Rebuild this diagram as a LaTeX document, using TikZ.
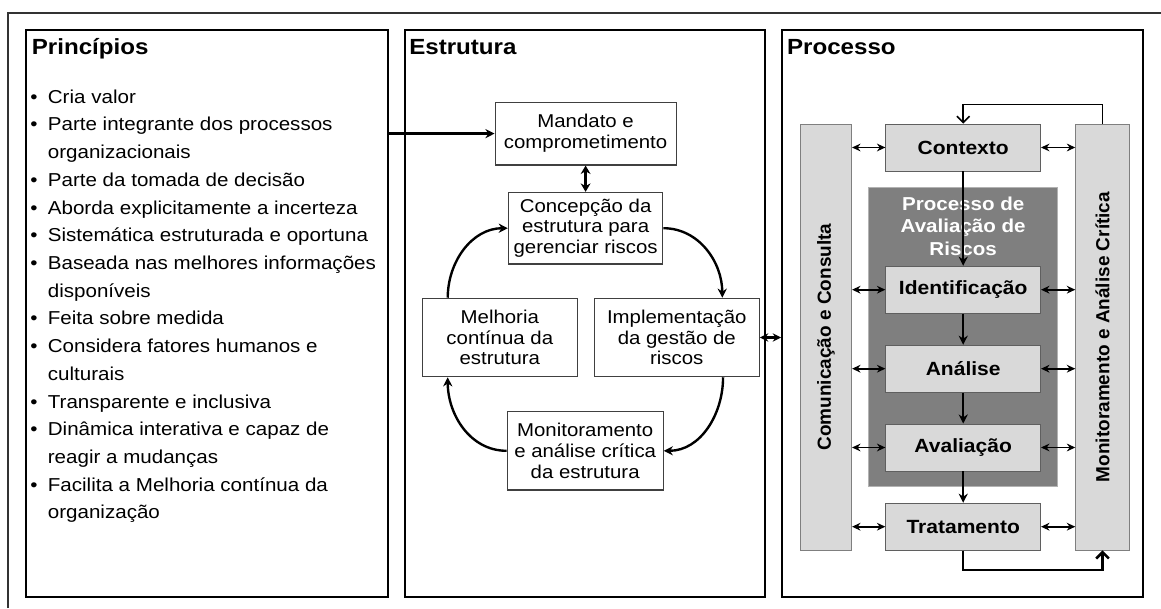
\documentclass[tikz,border=0pt]{standalone}
\usepackage{fontspec}
\setmainfont[FakeStretch=1.1]{Liberation Sans}
\newfontfamily\barfont{Liberation Sans}
\usetikzlibrary{arrows.meta, positioning}
\definecolor{boxgray}{RGB}{217,217,217}
\definecolor{riskgray}{RGB}{127,127,127}
\definecolor{edgegray}{RGB}{95,95,95}
\newcommand\bul{\makebox[0.44cm][l]{\textbullet}}
\newcommand\cont{\hspace*{0.44cm}}

\tikzset{
  panel/.style={draw=black, line width=1.2pt, inner sep=0pt, minimum height=14.175cm},
  paneltitle/.style={anchor=base west, inner sep=0pt, font=\fontsize{15.6}{18}\selectfont\bfseries},
  itemline/.style={anchor=base west, inner sep=0pt, font=\fontsize{13.3}{15}\selectfont},
  framebox/.style={draw=black!75, line width=0.8pt, fill=white, align=center, inner sep=1pt,
    minimum height=1.96cm, font=\fontsize{13.2}{14.8}\selectfont},
  stepbox/.style={draw=edgegray, line width=0.6pt, fill=boxgray, minimum width=3.87cm,
    minimum height=1.175cm, font=\fontsize{13.6}{15}\selectfont\bfseries},
  sidebar/.style={draw=riskgray, line width=0.6pt, fill=boxgray, minimum height=10.65cm},
  bartext/.style={rotate=90, font=\barfont\fontsize{13.5}{15}\selectfont\bfseries},
  arr/.style={line width=1.7pt, -{Stealth[length=6.5pt,width=6.5pt]}},
  dblarr/.style={line width=1.3pt, {Stealth[length=6pt,width=5.5pt]}-{Stealth[length=6pt,width=5.5pt]}},
  barb/.style={-{Straight Barb[length=4.5pt,width=9pt]}}
}

\begin{document}
\begin{tikzpicture}
  \useasboundingbox (0,0) rectangle (29.025,15.2);

  % outer frame
  \draw[line width=1pt, black!80] (0.2,0) -- (0.2,14.875) -- (29.025,14.875);

  % the three panels
  \node[panel, minimum width=9.05cm] (princ) at (5.175,7.3625) {};
  \node[panel, minimum width=9cm] (estr) at (14.625,7.3625) {};
  \node[panel, minimum width=9.025cm] (proc) at (24.0625,7.3625) {};

  \node[paneltitle] (princtitle) at (0.79,13.84) {Princípios};
  \node[paneltitle] (estrtitle) at (10.225,13.84) {Estrutura};
  \node[paneltitle] (proctitle) at (19.67,13.84) {Processo};

  % principles
  \foreach \txt [count=\i from 0] in {\bul Cria valor, \bul Parte integrante dos processos,
      \cont organizacionais, \bul Parte da tomada de decisão, \bul Aborda explicitamente a incerteza,
      \bul Sistemática estruturada e oportuna, \bul Baseada nas melhores informações,
      \cont disponíveis, \bul Feita sobre medida, \bul Considera fatores humanos e,
      \cont culturais, \bul Transparente e inclusiva, \bul Dinâmica interativa e capaz de,
      \cont reagir a mudanças, \bul Facilita a Melhoria contínua da, \cont organização}
    \node[itemline] (pl\i) at (0.75,12.6175-0.6925*\i) {\txt};

  % structure
  \node[framebox, minimum width=4.525cm, minimum height=1.57cm] (mand) at (14.64,11.86) {Mandato e\\comprometimento};
  \node[framebox, minimum width=3.86cm, minimum height=1.79cm] (conc) at (14.64,9.495) {Concepção da\\estrutura para\\gerenciar riscos};
  \node[framebox, minimum width=3.875cm] (melh) at (12.495,6.7625) {Melhoria\\contínua da\\estrutura};
  \node[framebox, minimum width=4.125cm] (impl) at (16.92,6.7625) {Implementação\\da gestão de\\riscos};
  \node[framebox, minimum width=3.9cm] (moni) at (14.63,3.93) {Monitoramento\\e análise crítica\\da estrutura};

  \draw[arr] (princ.east |- mand) -- (mand);
  \draw[line width=1.8pt, {Stealth[length=6pt,width=7pt]}-{Stealth[length=6pt,width=7pt]}] (mand) -- (conc);
  \draw[arr] ([xshift=0.65cm]melh.north west) to[out=90,in=180] (conc.west);
  \draw[arr] (conc.east) to[out=0,in=90] ([xshift=-0.94cm]impl.north east);
  \draw[arr] ([xshift=-0.92cm]impl.south east) to[out=-90,in=0] (moni.east);
  \draw[arr] (moni.west) to[out=180,in=-90] ([xshift=0.65cm]melh.south west);
  \draw[line width=1.6pt, {Stealth[length=6pt,width=6pt]}-{Stealth[length=6pt,width=6pt]}] (impl.east) -- (proc.west |- impl);

  % process
  \node[sidebar, minimum width=1.29cm] (comm) at (20.646,6.775) {};
  \node[sidebar, minimum width=1.34cm] (mon) at (27.5625,6.775) {};
  \node[bartext] (commtext) at (comm) {Comunicação e Consulta};
  \node[bartext] (montext) at (mon) {Monitoramento e Análise Crítica};

  \node[draw=black!30, line width=0.6pt, fill=riskgray, minimum width=4.7175cm, minimum height=7.485cm] (rabox) at (24.08,6.775) {};
  \node[text=white, align=center, font=\fontsize{13.3}{16.1}\selectfont\bfseries] (ratitle) at (24.08,9.55) {Processo de\\Avaliação de\\Riscos};

  \node[stepbox] (ctx) at (24.08,11.5125) {Contexto};
  \node[stepbox] (ident) at (24.08,7.9575) {Identificação};
  \node[stepbox] (anal) at (24.08,5.9825) {Análise};
  \node[stepbox] (aval) at (24.08,4.0125) {Avaliação};
  \node[stepbox] (trat) at (24.08,2.0325) {Tratamento};

  \foreach \n in {ctx,ident,anal,aval,trat} {
    \draw[dblarr] (comm.east |- \n) -- (\n.west);
    \draw[dblarr] (\n.east) -- (mon.west |- \n);
  }

  \draw[arr] (ctx) -- (ident);
  \draw[arr] (ident) -- (anal);
  \draw[arr] (anal) -- (aval);
  \draw[arr] (aval) -- (trat);

  \draw[line width=1.1pt, barb] (mon.north) -- ++(0,0.475) -| (ctx.north);
  \draw[line width=1.8pt, barb] (trat.south) -- ++(0,-0.4825) -| (mon.south);
\end{tikzpicture}
\end{document}
